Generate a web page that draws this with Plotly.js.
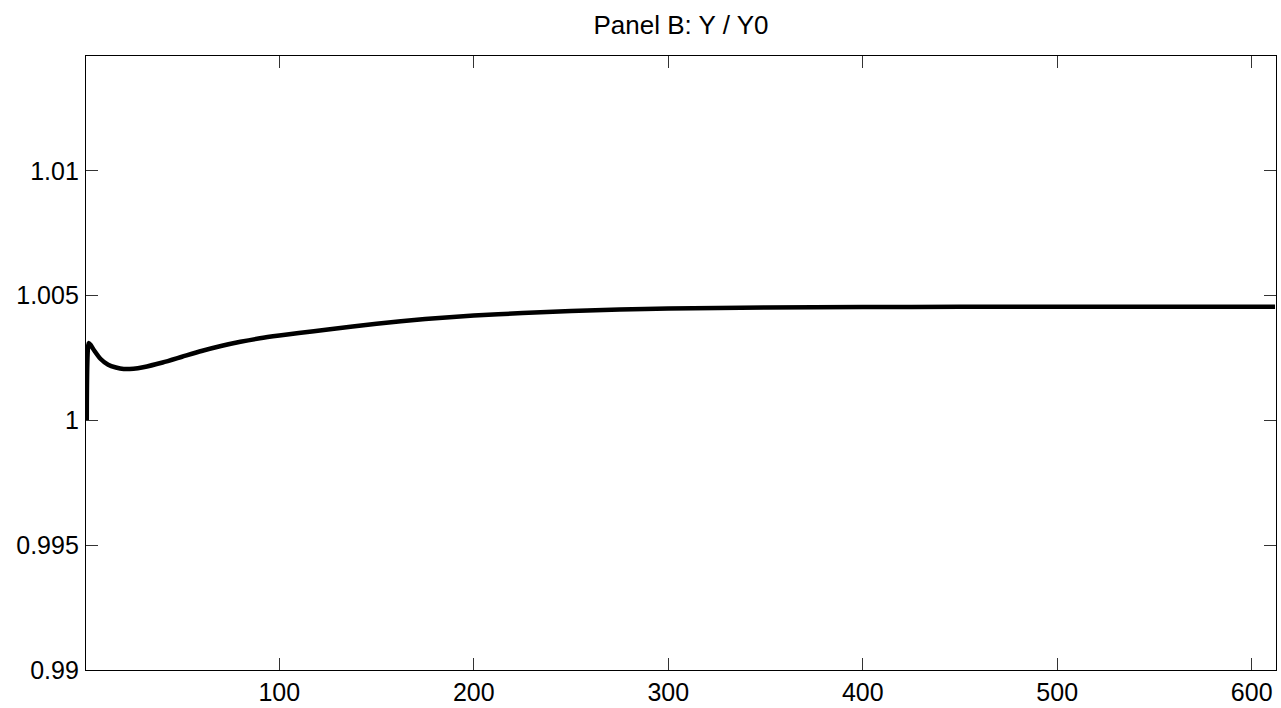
<!DOCTYPE html>
<html>
<head>
<meta charset="utf-8">
<script src="https://cdn.plot.ly/plotly-3.0.1.min.js"></script>
<style>html,body{margin:0;padding:0;background:#fff;}#chart{width:1281px;height:708px;}</style>
</head>
<body>
<div id="chart"></div>
<script>
const periods = [1, 2, 3, 5, 8, 12, 16, 20, 25, 30, 40, 50, 60, 70, 80, 90, 100, 110, 125, 150, 175, 200, 225, 250, 275, 300, 350, 400, 450, 500, 550, 612];
const yRatio = [1.0000, 1.00310, 1.00302, 1.00278, 1.00247, 1.00223, 1.00212, 1.00206, 1.00207, 1.00213, 1.00232, 1.00255, 1.00278, 1.00298, 1.00315, 1.00329, 1.00340, 1.00350, 1.00364, 1.00387, 1.00406, 1.00420, 1.00430, 1.00438, 1.00444, 1.00448, 1.00452, 1.00454, 1.00455, 1.00455, 1.00455, 1.00455];
const xTickVals = [100, 200, 300, 400, 500, 600];
const xTickText = ['100', '200', '300', '400', '500', '600'];
const yTickVals = [0.99, 0.995, 1, 1.005, 1.01];
const yTickText = ['0.99', '0.995', '1', '1.005', '1.01'];

const trace = {
  x: periods, y: yRatio, type: 'scatter', mode: 'lines',
  line: {color: '#000000', width: 4.5, shape: 'spline', smoothing: 0.6},
  hoverinfo: 'skip'
};
const fam = 'Liberation Sans, Arial, sans-serif';
const layout = {
  width: 1281, height: 708,
  margin: {l: 86, r: 5, t: 56, b: 38},
  paper_bgcolor: '#fff', plot_bgcolor: '#fff',
  showlegend: false,
  font: {family: fam, size: 25, color: '#000'},
  title: {text: 'Panel B: Y / Y0', font: {family: fam, size: 26, color: '#000'}, x: 0.5, xanchor: 'center', xref: 'paper', yref: 'container', y: 1 - 25/708, yanchor: 'middle'},
  xaxis: {
    range: [0.6, 612.5], showgrid: false, zeroline: false,
    tickvals: xTickVals, ticktext: xTickText,
    ticks: 'inside', ticklen: 12, tickwidth: 1, tickcolor: '#333',
    showline: true, linecolor: '#000', linewidth: 1.2, mirror: 'ticks',
    tickfont: {family: fam, size: 25, color: '#000'}
  },
  yaxis: {
    range: [0.99, 1.0146], showgrid: false, zeroline: false,
    tickvals: yTickVals, ticktext: yTickText,
    ticks: 'inside', ticklen: 12, tickwidth: 1, tickcolor: '#333',
    showline: true, linecolor: '#000', linewidth: 1.2, mirror: 'ticks',
    tickfont: {family: fam, size: 25, color: '#000'},
    ticklabelstandoff: 1
  }
};
Plotly.newPlot('chart', [trace], layout, {displayModeBar: false, staticPlot: true});
</script>
</body>
</html>
